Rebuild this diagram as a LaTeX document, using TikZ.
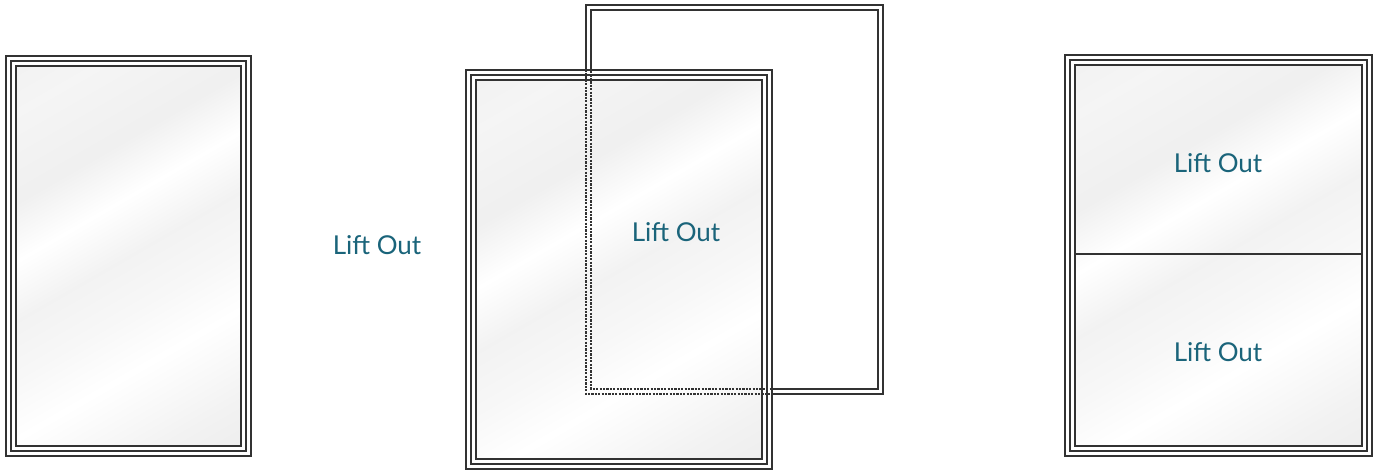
\documentclass[tikz,border=0pt]{standalone}
\usepackage{fontspec}
\newfontfamily\labelfont{Lato}
\definecolor{labelteal}{RGB}{26,100,122}
\definecolor{frameink}{RGB}{50,50,50}
\pgfdeclarehorizontalshading{glass}{100bp}{color(0bp)=(black!8); color(22bp)=(black!4); color(34bp)=(black!6); color(42bp)=(white); color(50bp)=(black!5); color(58bp)=(black!3); color(66bp)=(white); color(78bp)=(black!5); color(100bp)=(black!11)}
\tikzset{
  frameline/.style={draw=frameink, line width=1.6pt},
  backdash/.style={draw=frameink, line width=1.5pt, dash pattern=on 2.2pt off 1.2pt},
  glassfill/.style={shading=glass, shading angle=-60},
  liftlabel/.style={text=labelteal, font=\labelfont\fontsize{26}{30}\selectfont, inner sep=0pt}
}
\newcommand\glassframe[4]{%
  \fill[white] (#1,#2) rectangle (#3,#4);
  \shade[glassfill] (#1+10,#2+10) rectangle (#3-10,#4-10);
  \draw[frameline] (#1,#2) rectangle (#3,#4);
  \draw[frameline] (#1+5,#2+5) rectangle (#3-5,#4-5);
  \draw[frameline] (#1+10,#2+10) rectangle (#3-10,#4-10);
}
\begin{document}
\begin{tikzpicture}[x=1pt,y=-1pt]
\useasboundingbox (0,0) rectangle (1378,470);
% left window
\glassframe{6}{56}{251}{456}
\node[liftlabel] (lblA) at (377,245) {Lift Out};
% back (lifted) sash, solid part
\draw[frameline] (586,5) rectangle (883,394);
\draw[frameline] (591,10) rectangle (878,389);
% front sash
\glassframe{466}{70}{772}{469}
% back sash seen through the front one
\begin{scope}
  \clip (466,70) rectangle (772,469);
  \draw[backdash] (586,5) rectangle (883,394);
  \draw[backdash] (591,10) rectangle (878,389);
\end{scope}
\node[liftlabel] (lblB) at (676,232) {Lift Out};
% right window
\glassframe{1065}{55}{1372}{456}
\coordinate (divL) at (1075,254);
\coordinate (divR) at (1362,254);
\draw[frameline] (divL) -- (divR);
\node[liftlabel] (lblC) at (1218,163) {Lift Out};
\node[liftlabel] (lblD) at (1218,352) {Lift Out};
\end{tikzpicture}
\end{document}
